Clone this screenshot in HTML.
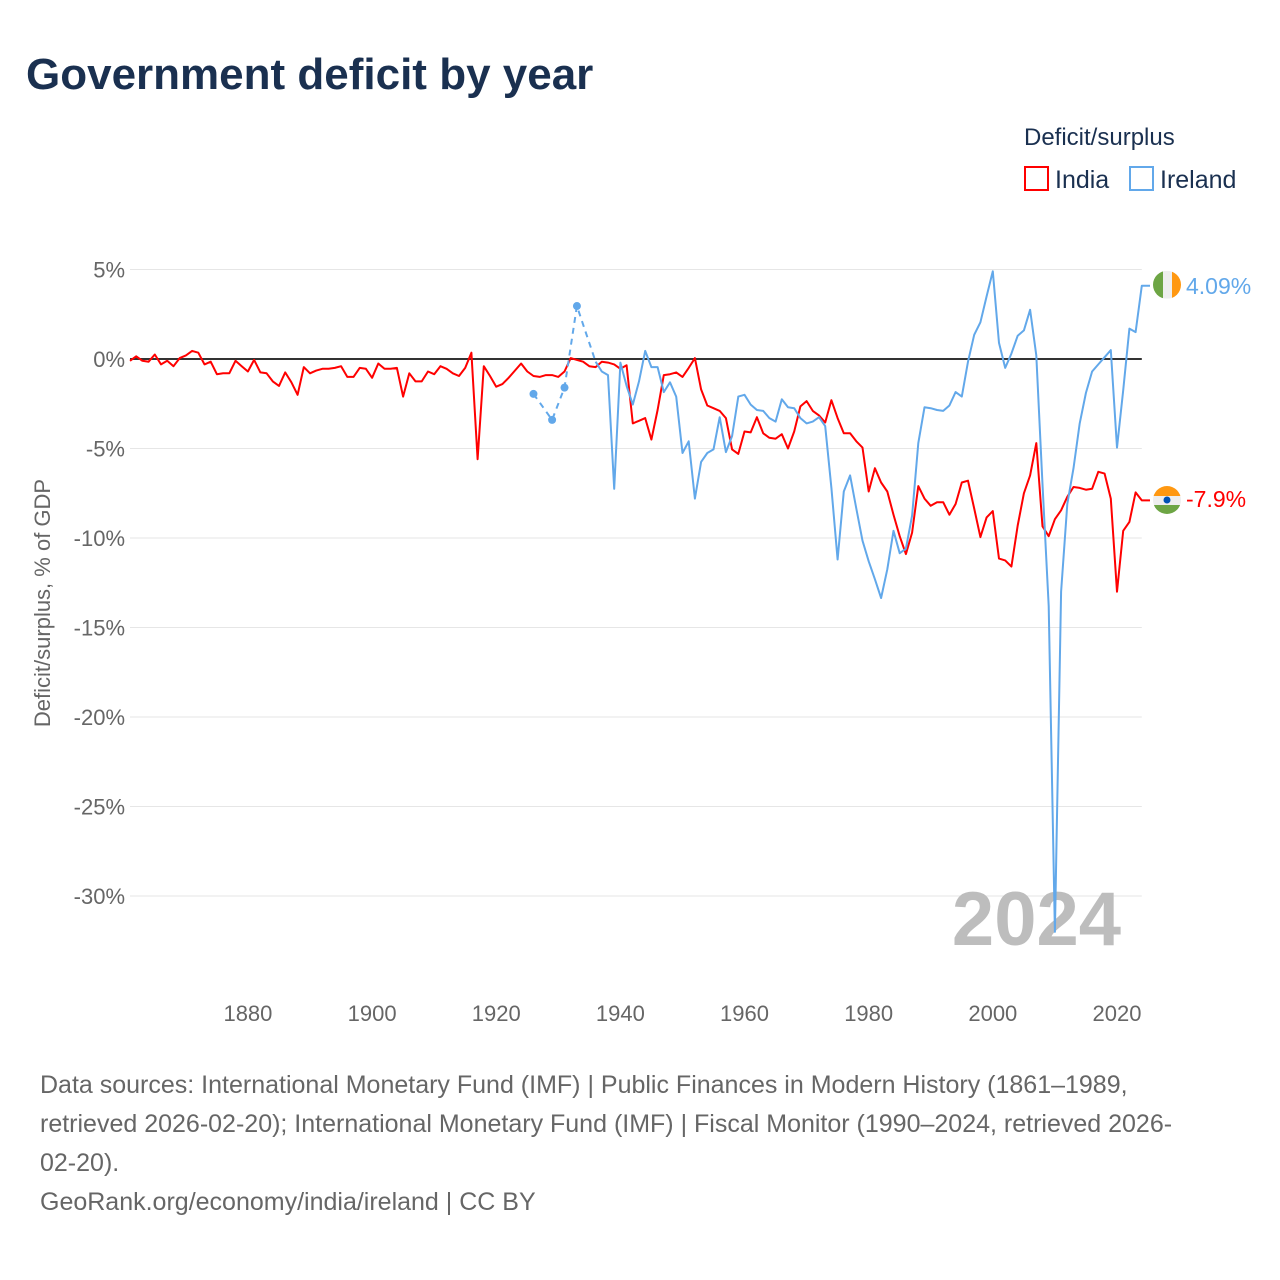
<!DOCTYPE html>
<html><head><meta charset="utf-8"><style>
body{margin:0;background:#fff;font-family:"Liberation Sans",sans-serif;}
#wrap{position:relative;width:1280px;height:1280px;overflow:hidden;}
.t{position:absolute;white-space:nowrap;}
</style></head><body>
<div id="wrap">
<div class="t" style="left:26px;top:50px;font-size:44px;font-weight:bold;color:#1a3050;">Government deficit by year</div>
<div class="t" style="left:1024px;top:124px;font-size:24px;color:#1a3050;">Deficit/surplus</div>
<div class="t" style="left:1024px;top:166px;font-size:25px;color:#1a3050;"><span style="display:inline-block;width:21px;height:21px;border:2px solid #f00;vertical-align:-3px;margin-right:6px;"></span>India</div>
<div class="t" style="left:1129px;top:166px;font-size:25px;color:#1a3050;"><span style="display:inline-block;width:21px;height:21px;border:2px solid #62a8ea;vertical-align:-3px;margin-right:6px;"></span>Ireland</div>
<svg id="chart" width="1280" height="1060" style="position:absolute;left:0;top:0;" font-family="Liberation Sans, sans-serif"></svg>
<div class="t" style="left:40px;top:1066px;font-size:25px;line-height:39px;color:#666;">Data sources: International Monetary Fund (IMF) | Public Finances in Modern History (1861–1989,<br>retrieved 2026-02-20); International Monetary Fund (IMF) | Fiscal Monitor (1990–2024, retrieved 2026-<br>02-20).<br>GeoRank.org/economy/india/ireland | CC BY</div>
</div>
<script>
const startYear = 1861;
const indiaValues = [-0.1,0.15,-0.1,-0.15,0.25,-0.3,-0.1,-0.4,0.05,0.2,0.45,0.35,-0.3,-0.15,-0.85,-0.8,-0.8,-0.1,-0.4,-0.7,
-0.05,-0.75,-0.8,-1.25,-1.5,-0.75,-1.3,-2.0,-0.45,-0.8,-0.65,-0.55,-0.55,-0.5,-0.4,-1.0,-1.0,-0.5,-0.55,-1.05,
-0.25,-0.55,-0.55,-0.5,-2.1,-0.8,-1.25,-1.25,-0.7,-0.85,-0.4,-0.55,-0.8,-0.95,-0.5,0.35,-5.6,-0.4,-0.95,-1.55,
-1.4,-1.05,-0.65,-0.25,-0.7,-0.95,-1.0,-0.9,-0.9,-1.0,-0.7,0.05,-0.05,-0.15,-0.4,-0.45,-0.15,-0.2,-0.3,-0.55,
-0.35,-3.6,-3.45,-3.3,-4.5,-2.85,-0.9,-0.85,-0.75,-1.0,-0.5,0.05,-1.7,-2.6,-2.75,-2.9,-3.3,-5.05,-5.3,-4.05,
-4.1,-3.25,-4.15,-4.4,-4.45,-4.2,-5.0,-4.05,-2.65,-2.35,-2.9,-3.15,-3.55,-2.3,-3.3,-4.15,-4.15,-4.6,-4.95,-7.4,
-6.1,-6.9,-7.4,-8.7,-9.9,-10.9,-9.7,-7.1,-7.8,-8.2,-8.0,-8.0,-8.7,-8.1,-6.9,-6.8,-8.35,-9.95,-8.85,-8.5,
-11.15,-11.25,-11.6,-9.3,-7.5,-6.5,-4.7,-9.35,-9.9,-8.95,-8.45,-7.7,-7.15,-7.2,-7.3,-7.25,-6.3,-6.4,-7.8,-13.0,
-9.6,-9.1,-7.45,-7.9];
const irelandYears = [1926,1929,1931,1933];
const irelandEarly = [-1.95,-3.4,-1.6,2.96];
const irelandStart = 1936;
const irelandValues = [-0.15,-0.7,-0.9,-7.25,-0.2,-1.5,-2.55,-1.25,0.45,-0.45,-0.45,-1.85,-1.3,-2.1,-5.25,-4.6,-7.8,-5.75,-5.25,-5.05,
-3.25,-5.2,-4.3,-2.1,-2.0,-2.55,-2.85,-2.9,-3.3,-3.5,-2.25,-2.7,-2.75,-3.3,-3.6,-3.5,-3.25,-3.75,-7.2,-11.2,
-7.4,-6.5,-8.35,-10.15,-11.3,-12.3,-13.35,-11.75,-9.6,-10.85,-10.6,-8.75,-4.7,-2.7,-2.75,-2.85,-2.9,-2.6,-1.85,-2.1,
-0.15,1.35,2.05,3.5,4.9,0.9,-0.5,0.3,1.3,1.6,2.75,0.2,-7.0,-13.8,-32.0,-13.0,-8.1,-6.1,-3.6,-1.9,
-0.7,-0.3,0.1,0.5,-4.95,-1.75,1.7,1.5,4.09];
const yTicks = [5,0,-5,-10,-15,-20,-25,-30];
const xTicks = [1880,1900,1920,1940,1960,1980,2000,2020];

const svg = document.getElementById('chart');
const NS = 'http://www.w3.org/2000/svg';
const X0=130, X1=1141.8;
const xs = y => X0 + (y-1861)*(X1-X0)/(2024-1861);
const ys = v => 359 - v*17.9;
function mk(tag, attrs){const e=document.createElementNS(NS,tag);for(const k in attrs)e.setAttribute(k,attrs[k]);svg.appendChild(e);return e;}

yTicks.forEach(v=>{
  const g=mk('line',{x1:X0,x2:X1,y1:ys(v),y2:ys(v),stroke:'#e6e6e6','stroke-width':1});
  
  
  const t=mk('text',{x:125,y:ys(v)+8,'text-anchor':'end','font-size':22,fill:'#666'});
  t.textContent=v+'%';
  
  
});
xTicks.forEach(y=>{
  const t=mk('text',{x:xs(y),y:1021,'text-anchor':'middle','font-size':22,fill:'#666'});
  t.textContent=y;
  
  
});
const yt=mk('text',{transform:'translate(50,603) rotate(-90)','text-anchor':'middle','font-size':22,fill:'#666'});
yt.textContent='Deficit/surplus, % of GDP';



const big=mk('text',{x:1121,y:945,'text-anchor':'end','font-size':76,'font-weight':'bold',fill:'#bdbdbd'});
big.textContent='2024';



const zl=mk('line',{x1:X0,x2:X1,y1:ys(0),y2:ys(0),stroke:'#333','stroke-width':2});



let d=indiaValues.map((v,i)=>(i?'L':'M')+xs(startYear+i).toFixed(1)+','+ys(v).toFixed(1)).join(' ');
d+=' H1150';
const ip=mk('path',{d:d,fill:'none',stroke:'#f00','stroke-width':2,'stroke-linejoin':'round'});



let de=irelandYears.map((y,i)=>(i?'L':'M')+xs(y).toFixed(1)+','+ys(irelandEarly[i]).toFixed(1)).join(' ');
de+=' L'+xs(irelandStart).toFixed(1)+','+ys(irelandValues[0]).toFixed(1);
const dp=mk('path',{d:de,fill:'none',stroke:'#62a8ea','stroke-width':2,'stroke-dasharray':'6,5'});


irelandYears.forEach((y,i)=>{
  const c=mk('circle',{cx:xs(y),cy:ys(irelandEarly[i]),r:4,fill:'#62a8ea'});
  
  
});
let dr=irelandValues.map((v,i)=>(i?'L':'M')+xs(irelandStart+i).toFixed(1)+','+ys(v).toFixed(1)).join(' ');
dr+=' H1150';
const rp=mk('path',{d:dr,fill:'none',stroke:'#62a8ea','stroke-width':2,'stroke-linejoin':'round'});



function flag(cy, kind){
  const cx=1167, r=14;
  const g=document.createElementNS(NS,'g');svg.appendChild(g);
  
  
  const cp=kind+'clip';
  g.innerHTML='<defs><clipPath id="'+cp+'"><circle cx="'+cx+'" cy="'+cy+'" r="'+r+'"/></clipPath></defs>'+
   (kind==='ireland'
   ? '<g clip-path="url(#'+cp+')"><rect x="'+(cx-r)+'" y="'+(cy-r)+'" width="10" height="28" fill="#6da544"/><rect x="'+(cx-4)+'" y="'+(cy-r)+'" width="9" height="28" fill="#eee"/><rect x="'+(cx+5)+'" y="'+(cy-r)+'" width="10" height="28" fill="#ff9811"/></g>'
   : '<g clip-path="url(#'+cp+')"><rect x="'+(cx-r)+'" y="'+(cy-r)+'" width="28" height="10" fill="#ff9811"/><rect x="'+(cx-r)+'" y="'+(cy-4)+'" width="28" height="9" fill="#eee"/><rect x="'+(cx-r)+'" y="'+(cy+5)+'" width="28" height="10" fill="#6da544"/><circle cx="'+cx+'" cy="'+cy+'" r="3.5" fill="#0052b4"/></g>');
}
const lastIre=irelandValues[irelandValues.length-1], lastInd=indiaValues[indiaValues.length-1];
flag(ys(lastIre)-1,'ireland');
flag(500,'india');
const l1=mk('text',{x:1186,y:ys(lastIre)+8,'font-size':23,fill:'#62a8ea'});
l1.textContent=lastIre.toFixed(2)+'%';


const l2=mk('text',{x:1186,y:507,'font-size':23,fill:'#f00'});
l2.textContent=lastInd+'%';


</script>
</body></html>
